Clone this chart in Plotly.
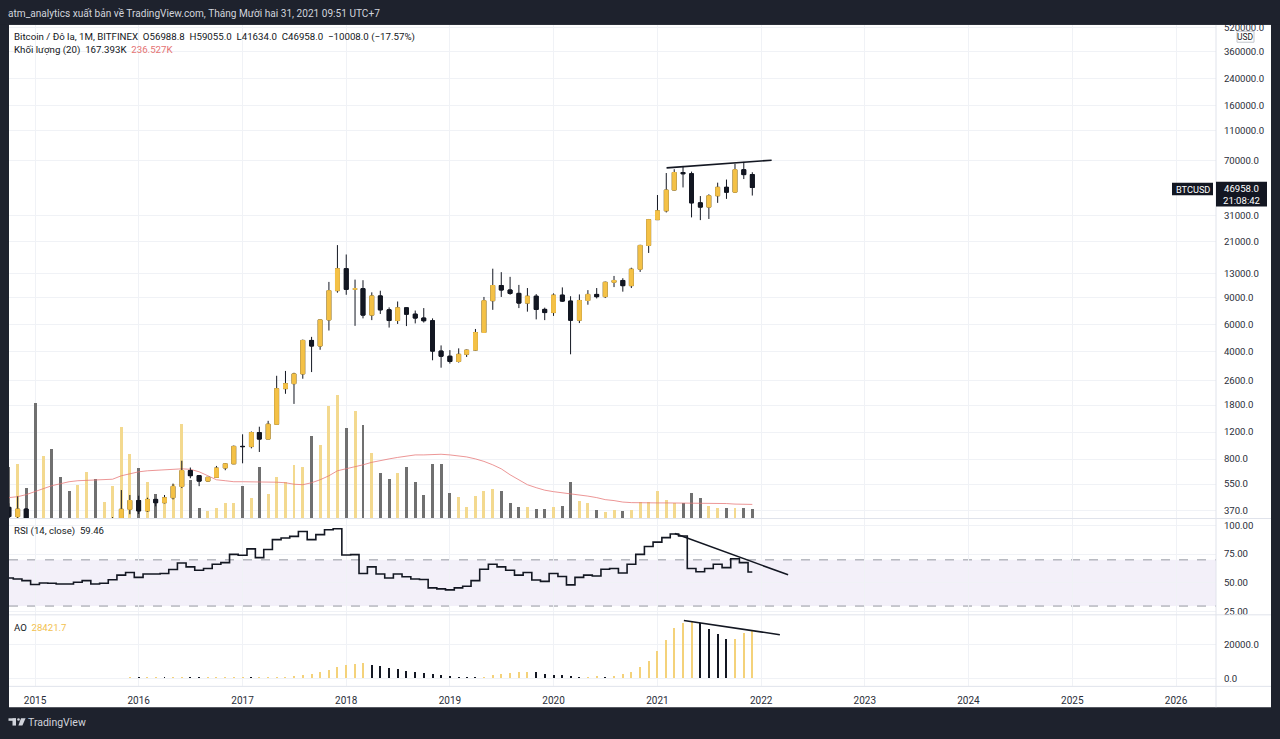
import pandas as pd
import plotly.graph_objects as go

W, H = 1280, 739

# ---------------- data (monthly, Oct 2014 .. Dec 2021) ----------------
months = pd.date_range("2014-10-01", "2021-12-01", freq="MS")

opens = [388, 338, 378,
         320, 217, 254, 244, 236, 230, 263, 284, 230, 236, 314, 377,
         430, 368, 437, 416, 448, 531, 673, 624, 575, 609, 700, 745,
         968, 965, 1190, 1080, 1350, 2300, 2480, 2870, 4740, 4360, 6450, 10000,
         13900, 10200, 10300, 6930, 9240, 7500, 6390, 7730, 7030, 6630, 6370, 4040,
         3740, 3460, 3850, 4100, 5340, 8600, 10800, 10100, 9600, 8300, 9200, 7550,
         7200, 9350, 8550, 6420, 8630, 9450, 9140, 11340, 11650, 10780, 13800, 19700,
         29000, 33100, 45200, 58800, 57700, 37300, 35000, 41500, 47100, 43800, 61300, 56988.8]
highs = [412, 457, 384,
         320, 265, 300, 260, 248, 268, 316, 285, 245, 335, 503, 467,
         462, 448, 439, 467, 554, 780, 705, 630, 612, 722, 754, 980,
         1160, 1210, 1300, 1420, 2790, 3000, 2920, 4800, 5000, 6470, 11400, 19800,
         17200, 11800, 11700, 9750, 9990, 7780, 8500, 7760, 7420, 7700, 6600, 4400,
         4100, 4210, 4130, 5630, 9100, 13900, 13200, 12300, 10900, 10400, 9500, 7750,
         9600, 10500, 9200, 9450, 10080, 10400, 11450, 12470, 12050, 14100, 19900, 29300,
         41950, 58350, 61780, 64900, 59600, 41300, 42400, 50500, 52900, 67000, 69000, 59055]
lows = [289, 316, 304,
        152, 212, 240, 211, 225, 220, 254, 198, 225, 236, 300, 350,
        351, 362, 394, 412, 437, 518, 600, 533, 570, 604, 677, 742,
        751, 940, 890, 1080, 1350, 2130, 1830, 2670, 2950, 4120, 5500, 9700,
        9400, 5900, 6600, 6430, 7050, 5750, 6070, 5880, 6120, 6200, 3520, 3150,
        3350, 3400, 3700, 4070, 5330, 7500, 9100, 9400, 7700, 7300, 6500, 6430,
        6850, 8450, 3850, 6150, 8100, 8900, 8950, 10550, 9850, 10400, 13250, 17600,
        28850, 32300, 44950, 47000, 30000, 28800, 29300, 37300, 39600, 43300, 53300, 41634]
closes = [338, 378, 320,
          217, 254, 244, 236, 230, 263, 284, 230, 236, 314, 377, 430,
          368, 437, 416, 448, 531, 673, 624, 575, 609, 700, 745, 968,
          965, 1190, 1080, 1350, 2300, 2480, 2870, 4740, 4360, 6450, 10000, 13900,
          10200, 10300, 6930, 9240, 7500, 6390, 7730, 7030, 6630, 6370, 4040, 3740,
          3460, 3850, 4100, 5340, 8600, 10800, 10100, 9600, 8300, 9200, 7550, 7200,
          9350, 8550, 6420, 8630, 9450, 9140, 11340, 11650, 10780, 13800, 19700, 29000,
          33100, 45200, 58800, 57700, 37300, 35000, 41500, 47100, 43800, 61300, 56988.8, 46958]

volume_k = [870, 918, 518,
            1937, 1052, 1169, 701, 468, 568, 785, 668, 284, 551, 1536, 1086,
            852, 618, 418, 367, 585, 1587, 651, 184, 134, 184, 267, 267,
            551, 351, 868, 418, 701, 618, 902, 868, 1386, 1236, 1887, 2071,
            1520, 1804, 1570, 1102, 768, 668, 768, 868, 618, 401, 918, 918,
            434, 367, 200, 384, 468, 501, 468, 267, 200, 200, 167, 167,
            200, 217, 618, 301, 267, 150, 117, 150, 134, 150, 284, 284,
            468, 317, 267, 267, 434, 351, 217, 184, 184, 184, 184, 167.393]
volume_ma_k = [351, 367, 401,
               451, 501, 551, 585, 618, 635, 643, 651, 651, 660, 718, 752,
               785, 802, 810, 818, 827, 835, 827, 785, 718, 651, 635, 618,
               618, 618, 618, 618, 610, 601, 576, 568, 601, 651, 718, 802,
               835, 860, 902, 944, 977, 1002, 1027, 1052, 1069, 1069, 1077, 1080,
               1069, 1052, 1035, 1002, 960, 902, 835, 735, 651, 568, 518, 476,
               451, 434, 418, 401, 376, 351, 317, 301, 276, 267, 262, 262,
               262, 262, 262, 262, 262, 259, 259, 251, 251, 242, 238, 236.527]

rsi = [54.3, 53.4, 52.0,
       48.6, 50.0, 49.7, 49.1, 49.1, 50.6, 52.0, 49.1, 49.7, 52.8, 56.8, 59.1,
       54.8, 57.7, 57.7, 58.2, 61.6, 67.3, 63.9, 61.0, 62.5, 66.2, 67.6, 74.7,
       74.0, 79.5, 71.9, 79.0, 87.5, 88.9, 90.3, 94.6, 87.5, 91.8, 96.0, 96.9,
       74.2, 74.5, 58.2, 63.9, 57.7, 54.3, 57.7, 55.4, 53.4, 53.0, 45.7, 44.9,
       44.0, 45.7, 47.1, 52.0, 61.9, 66.2, 63.9, 61.0, 56.8, 59.1, 52.6, 51.4,
       58.2, 55.6, 48.3, 54.8, 56.8, 56.0, 61.9, 62.5, 58.6, 66.2, 74.7, 81.6,
       85.3, 89.2, 92.4, 90.7, 62.5, 59.7, 62.5, 66.2, 63.3, 71.0, 67.6, 59.46]

ao = [None] * 14 + [600,
      560, 600, 640, 610, 650, 690, 660, 620, 640, 660, 690, 710,
      730, 700, 720, 760, 800, 880, 1370, 1960, 2350, 3720, 4700, 6860,
      8230, 8820, 9210, 8230, 7250, 6080, 5680, 4310, 3720, 2940, 2350, 1960,
      1370, 980, 780, 590, 980, 1760, 2550, 3330, 3720, 3920, 3720, 2740,
      1960, 1760, 1370, 980, 1100, 1200, 1100, 1370, 2350, 3730, 6470, 10200,
      16270, 22940, 30000, 32750, 33330, 32700, 29400, 26070, 23140, 23530, 27060, 28421.7]

# user-drawn trend lines (date, value)
price_trend_x = ["2021-02-02", "2022-02-07"]
price_trend_y = [63040, 70700]
rsi_trend_x = ["2021-03-03", "2022-04-06"]
rsi_trend_y = [92.7, 57.1]
ao_trend_x = ["2021-04-04", "2022-03-08"]
ao_trend_y = [34290, 25880]

year_ticks = ["2015", "2016", "2017", "2018", "2019", "2020", "2021",
              "2022", "2023", "2024", "2025", "2026"]
price_ticks = [370, 550, 800, 1200, 1800, 2600, 4000, 6000, 9000, 13000, 21000,
               31000, 70000, 110000, 160000, 240000, 360000, 520000]
rsi_ticks = [25, 50, 75, 100]
ao_ticks = [0, 20000]

# ---------------- styling ----------------
FONT = "Roboto, Liberation Sans, sans-serif"
DARK = "#1e222d"
INK = "#131722"
AXT = "#2a2e39"
YEL = "#f4c146"
VOL_Y = "#f3d98f"
VOL_D = "#707070"
AO_Y = "#f4d27a"
GRID = "#f0f2f6"
SEP = "#e0e3eb"


def px(x):
    return x / W


def py(y):
    return 1 - y / H


X_DOM = [px(9), px(1216)]
MAIN = [py(519), py(22)]
RSI_D = [py(616), py(519)]
AO_D = [py(688), py(616)]

up = [c >= o for o, c in zip(opens, closes)]
vol_colors = [VOL_Y if u else VOL_D for u in up]
ao_colors = []
prev = None
for v in ao:
    if v is None:
        ao_colors.append(AO_Y)
    else:
        ao_colors.append(AO_Y if (prev is None or v >= prev) else INK)
        prev = v

body_hi = [max(o, c) for o, c in zip(opens, closes)]
body_lo = [min(o, c) for o, c in zip(opens, closes)]

DAY_MS = 86400000

fig = go.Figure()

# volume (base axis of main pane)
fig.add_trace(go.Bar(x=months, y=volume_k, yaxis="y", xaxis="x",
                     marker=dict(color=vol_colors, line=dict(width=0)),
                     width=10.5 * DAY_MS, hoverinfo="skip"))
fig.add_trace(go.Scatter(x=months, y=volume_ma_k, yaxis="y", xaxis="x", mode="lines",
                         line=dict(color="rgba(229,115,115,0.75)", width=1), hoverinfo="skip"))

# candles: wicks + bodies
fig.add_trace(go.Candlestick(x=months, open=opens, high=highs, low=lows, close=closes,
                             yaxis="y2", xaxis="x",
                             increasing=dict(line=dict(color=INK, width=1), fillcolor=YEL),
                             decreasing=dict(line=dict(color=INK, width=1), fillcolor=INK),
                             whiskerwidth=0, hoverinfo="skip"))
fig.add_trace(go.Candlestick(x=months, open=opens, high=body_hi, low=body_lo, close=closes,
                             yaxis="y2", xaxis="x",
                             increasing=dict(line=dict(color=YEL, width=1), fillcolor=YEL),
                             decreasing=dict(line=dict(color=INK, width=1), fillcolor=INK),
                             whiskerwidth=0, hoverinfo="skip"))
fig.add_trace(go.Scatter(x=price_trend_x, y=price_trend_y, yaxis="y2", xaxis="x", mode="lines",
                         line=dict(color=INK, width=1.6), hoverinfo="skip"))

# RSI
fig.add_trace(go.Scatter(x=months, y=rsi, yaxis="y3", xaxis="x", mode="lines",
                         line=dict(color=INK, width=1.6, shape="hvh"), hoverinfo="skip"))
fig.add_trace(go.Scatter(x=rsi_trend_x, y=rsi_trend_y, yaxis="y3", xaxis="x", mode="lines",
                         line=dict(color=INK, width=1.6), hoverinfo="skip"))

# AO
fig.add_trace(go.Bar(x=months, y=ao, yaxis="y4", xaxis="x",
                     marker=dict(color=ao_colors, line=dict(width=0)),
                     width=7 * DAY_MS, hoverinfo="skip"))
fig.add_trace(go.Scatter(x=ao_trend_x, y=ao_trend_y, yaxis="y4", xaxis="x", mode="lines",
                         line=dict(color=INK, width=1.6), hoverinfo="skip"))

tickfont = dict(family=FONT, size=9.6, color=AXT)

fig.update_layout(
    width=W, height=H, margin=dict(l=0, r=0, t=0, b=0),
    paper_bgcolor=DARK, plot_bgcolor="rgba(0,0,0,0)",
    showlegend=False, hovermode=False, bargap=0,
    xaxis=dict(domain=X_DOM, anchor="y4", type="date",
               range=["2014-10-01 10:00", "2026-05-21 21:00"],
               tickvals=[f"{y}-01-01" for y in year_ticks], ticktext=year_ticks,
               showgrid=True, gridcolor=GRID, gridwidth=1, zeroline=False, showline=False,
               ticks="outside", ticklen=5, tickcolor="rgba(0,0,0,0)",
               tickfont=dict(family=FONT, size=10, color=AXT),
               rangeslider=dict(visible=False), fixedrange=True),
    yaxis=dict(domain=MAIN, anchor="x", range=[0, 8300], visible=False, fixedrange=True),
    yaxis2=dict(overlaying="y", anchor="x", side="right", type="log",
                range=[2.5163, 5.731], tickvals=price_ticks,
                ticktext=[f"{v:.1f}" for v in price_ticks],
                showgrid=True, gridcolor=GRID, zeroline=False, showline=False,
                ticks="outside", ticklen=5, tickcolor="rgba(0,0,0,0)", tickfont=tickfont,
                fixedrange=True),
    yaxis3=dict(domain=RSI_D, anchor="x", side="right", range=[22.4, 105.8],
                tickvals=rsi_ticks, ticktext=[f"{v:.2f}" for v in rsi_ticks],
                showgrid=True, gridcolor=GRID, zeroline=False, showline=False,
                ticks="outside", ticklen=5, tickcolor="rgba(0,0,0,0)", tickfont=tickfont,
                fixedrange=True),
    yaxis4=dict(domain=AO_D, anchor="x", side="right", range=[-4706, 37647],
                tickvals=ao_ticks, ticktext=[f"{v:.1f}" for v in ao_ticks],
                showgrid=True, gridcolor=GRID, zeroline=False, showline=False,
                ticks="outside", ticklen=5, tickcolor="rgba(0,0,0,0)", tickfont=tickfont,
                fixedrange=True),
)


def prect(x0, y0, x1, y1, fill, layer="above", line=None):
    return dict(type="rect", xref="paper", yref="paper",
                x0=px(x0), x1=px(x1), y0=py(y1), y1=py(y0),
                fillcolor=fill, line=line or dict(width=0), layer=layer)


def pline(x0, y0, x1, y1, color=SEP, width=1, layer="above"):
    return dict(type="line", xref="paper", yref="paper",
                x0=px(x0), x1=px(x1), y0=py(y0), y1=py(y1),
                line=dict(color=color, width=width), layer=layer)


shapes = [
    prect(9, 22, 1271, 709, "white", layer="below"),
    dict(type="rect", xref="paper", yref="y3", x0=X_DOM[0], x1=X_DOM[1], y0=30, y1=70,
         fillcolor="rgba(126,87,194,0.09)", line=dict(width=0), layer="below"),
    dict(type="line", xref="paper", yref="y3", x0=X_DOM[0], x1=X_DOM[1], y0=70, y1=70,
         line=dict(color="#9598a1", width=1, dash="dash"), layer="below"),
    dict(type="line", xref="paper", yref="y3", x0=X_DOM[0], x1=X_DOM[1], y0=30, y1=30,
         line=dict(color="#9598a1", width=1, dash="dash"), layer="below"),
    pline(9, 519, 1271, 519),
    pline(9, 616, 1271, 616),
    pline(9, 688, 1271, 688),
    pline(1216, 22, 1216, 709),
    prect(0, 0, W, 22, DARK),
    prect(1216, 180, 1267, 205, INK),
    prect(1172, 181, 1213, 193.5, INK),
    prect(1237, 28.5, 1254, 39.5, "white", line=dict(color="#c3c6ce", width=1)),
    # TradingView logo
    prect(8.5, 720.2, 16, 722.7, "#d1d4dc", layer="above"),
    prect(12.5, 720.2, 16, 727.5, "#d1d4dc", layer="above"),
    dict(type="circle", xref="paper", yref="paper", x0=px(17.2), x1=px(19.8),
         y0=py(722.7), y1=py(720.1), fillcolor="#d1d4dc", line=dict(width=0), layer="above"),
    dict(type="path", xref="paper", yref="paper",
         path=(f"M {px(21)} {py(720.2)} L {px(25.6)} {py(720.2)} "
               f"L {px(22.4)} {py(727.5)} L {px(18.4)} {py(727.5)} Z"),
         fillcolor="#d1d4dc", line=dict(width=0), layer="above"),
]


def ann(text, x, y, size, color, xanchor="left", yanchor="middle"):
    return dict(text=text, x=px(x), y=py(y), xref="paper", yref="paper",
                xanchor=xanchor, yanchor=yanchor, showarrow=False,
                font=dict(family=FONT, size=size, color=color), borderpad=0)


S = " \u00a0"
annotations = [
    ann("atm_analytics xuất bản về TradingView.com, Tháng Mười hai 31, 2021 09:51 UTC+7",
        7, 11, 10.1, "#d1d4dc"),
    ann("Bitcoin / Đô la, 1M, BITFINEX" + S + "O56988.8" + S + "H59055.0" + S + "L41634.0"
        + S + "C46958.0" + S + "−10008.0 (−17.57%)", 13, 34, 9.7, INK),
    ann("Khối lượng (20)" + S + "167.393K" + S + "<span style='color:#e57373'>236.527K</span>",
        13, 47, 9.7, INK),
    ann("RSI (14, close)" + S + "59.46", 13, 532, 9.6, INK),
    ann("AO" + S + "<span style='color:#f2c14e'>28421.7</span>", 13, 629, 9.6, INK),
    ann("46958.0", 1241.5, 186.8, 9.6, "white", xanchor="center"),
    ann("21:08:42", 1241.5, 198.8, 9.6, "white", xanchor="center"),
    ann("BTCUSD", 1192.5, 187.3, 9.2, "white", xanchor="center"),
    ann("USD", 1245.5, 34, 8.5, INK, xanchor="center"),
    ann("TradingView", 27, 724, 10.5, "#d1d4dc"),
]

fig.update_layout(shapes=shapes, annotations=annotations)

fig.write_html("out.html", config={"displayModeBar": False, "staticPlot": True},
               post_script="document.body.style.margin='0';document.body.style.overflow='hidden';")
